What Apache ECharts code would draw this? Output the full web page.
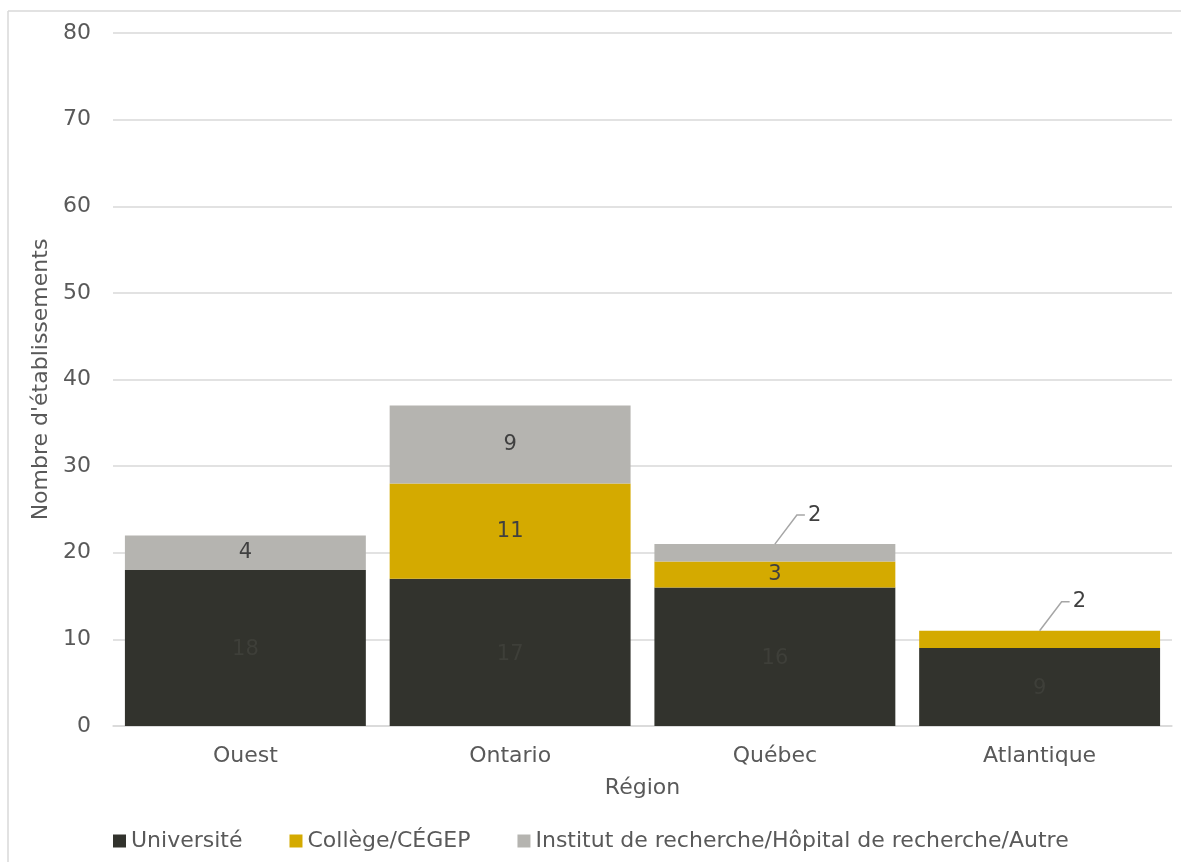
<!DOCTYPE html>
<html><head><meta charset="utf-8">
<script src="https://cdn.jsdelivr.net/npm/echarts@6/dist/echarts.min.js"></script>
<style>html,body{margin:0;padding:0;background:#fff}#c{width:1181px;height:862px}</style>
</head><body><div id="c"></div>
<script>
var categories = ['Ouest', 'Ontario', 'Québec', 'Atlantique'];
var universite = [18, 17, 16, 9];
var college = [0, 11, 3, 2];
var institut = [4, 9, 2, 0];
var seriesNames = ['Université', 'Collège/CÉGEP', 'Institut de recherche/Hôpital de recherche/Autre'];
var yTicks = [0, 10, 20, 30, 40, 50, 60, 70, 80];
// segments whose value label sits outside the bar with a leader line: [series, category index]
var callouts = [['college', 3], ['institut', 2]];

var FONT = '"DejaVu Sans", sans-serif';
var FS = 22;
var chart = echarts.init(document.getElementById('c'));

function isCallout(name, i){
  return callouts.some(function(c){ return c[0] === name && c[1] === i; });
}
function fmtFor(name){
  return function(p){
    if (!p.value || isCallout(name, p.dataIndex)) return '';
    return String(p.value);
  };
}
var calloutData = callouts.map(function(c){
  var i = c[1];
  var top = c[0] === 'college' ? universite[i] + college[i] : universite[i] + college[i] + institut[i];
  var val = c[0] === 'college' ? college[i] : institut[i];
  return [i, top, val];
});

chart.setOption({
  animation: false,
  textStyle: { fontFamily: FONT },
  grid: { left: 113, right: 9, top: 33, bottom: 136 },
  graphic: [
    { type: 'line', shape: { x1: 8, y1: 11, x2: 1181, y2: 11 }, style: { stroke: '#d9d9d9', lineWidth: 1.5 } },
    { type: 'line', shape: { x1: 8, y1: 11, x2: 8, y2: 862 }, style: { stroke: '#d9d9d9', lineWidth: 1.5 } }
  ],
  legend: {
    bottom: 5, left: 108,
    itemWidth: 13, itemHeight: 13, itemGap: 47,
    icon: 'rect',
    textStyle: { fontFamily: FONT, fontSize: FS, color: '#595959' },
    data: seriesNames
  },
  xAxis: {
    type: 'category', data: categories,
    name: 'Région', nameLocation: 'middle', nameGap: 51,
    nameTextStyle: { fontFamily: FONT, fontSize: FS, color: '#595959' },
    axisLine: { lineStyle: { color: '#d9d9d9', width: 1.5 } },
    axisTick: { show: false },
    axisLabel: { fontFamily: FONT, fontSize: FS, color: '#595959', margin: 19 }
  },
  yAxis: {
    type: 'value', min: 0, max: 80, interval: 10,
    name: "Nombre d'établissements", nameLocation: 'middle', nameGap: 55,
    nameTextStyle: { fontFamily: FONT, fontSize: FS, color: '#595959' },
    axisLine: { show: false }, axisTick: { show: false },
    splitLine: { lineStyle: { color: '#d9d9d9', width: 1.5 } },
    axisLabel: { fontFamily: FONT, fontSize: FS, color: '#595959', margin: 22,
      formatter: function(v){ return yTicks.indexOf(v) >= 0 ? String(v) : ''; } }
  },
  series: [
    { name: seriesNames[0], type: 'bar', stack: 't', data: universite, barCategoryGap: '9%',
      itemStyle: { color: '#32332d' },
      label: { show: true, position: 'inside', formatter: fmtFor('universite'), color: '#3e3f39', fontSize: 21, fontFamily: FONT, offset: [0, 2] } },
    { name: seriesNames[1], type: 'bar', stack: 't', data: college,
      itemStyle: { color: '#d4aa00' },
      label: { show: true, position: 'inside', formatter: fmtFor('college'), color: '#404040', fontSize: 21, fontFamily: FONT } },
    { name: seriesNames[2], type: 'bar', stack: 't', data: institut,
      itemStyle: { color: '#b5b4b0' },
      label: { show: true, position: 'inside', formatter: fmtFor('institut'), color: '#404040', fontSize: 21, fontFamily: FONT } },
    { name: 'callouts', type: 'custom', data: calloutData, silent: true, z: 5,
      renderItem: function(params, api){
        var pt = api.coord([api.value(0), api.value(1)]);
        var x = pt[0], y = pt[1];
        return { type: 'group', children: [
          { type: 'polyline', shape: { points: [[x, y], [x + 22, y - 29], [x + 30, y - 29]] },
            style: { stroke: '#a6a6a6', lineWidth: 1.5, fill: null } },
          { type: 'text', style: { text: String(api.value(2)), x: x + 33, y: y - 29,
            align: 'left', verticalAlign: 'middle', font: '21px ' + FONT, fill: '#404040' } }
        ] };
      } }
  ]
});
</script>
</body></html>
